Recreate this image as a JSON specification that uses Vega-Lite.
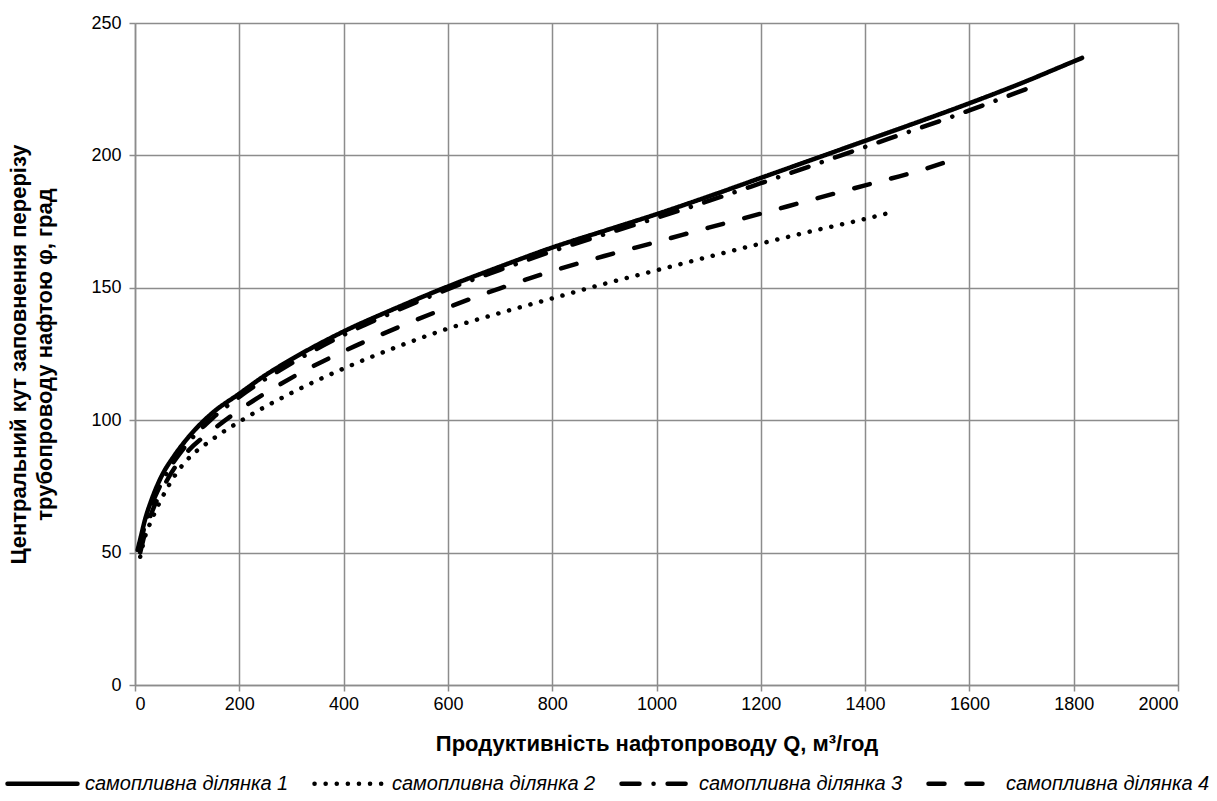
{
  "$schema": "https://vega.github.io/schema/vega-lite/v6.json",
  "width": 1043,
  "height": 662,
  "autosize": {"type": "none"},
  "padding": {"left": 135, "top": 23, "right": 39, "bottom": 116},
  "background": "white",
  "config": {
    "view": {"stroke": null},
    "font": "Liberation Sans",
    "axis": {
      "labelFont": "Liberation Sans",
      "labelFontSize": 18,
      "labelColor": "#000000",
      "titleFont": "Liberation Sans",
      "titleFontSize": 22,
      "titleFontWeight": "bold",
      "titleColor": "#000000",
      "gridColor": "#8c8c8c",
      "gridWidth": 1.5,
      "gridOpacity": 1,
      "domainColor": "#8c8c8c",
      "domainWidth": 1.5,
      "tickColor": "#8c8c8c",
      "tickWidth": 1.5,
      "tickSize": 6
    }
  },
  "data": {
    "values": [
      {"s": "самопливна ділянка 1", "Q": 5, "phi": 51},
      {"s": "самопливна ділянка 1", "Q": 10, "phi": 55},
      {"s": "самопливна ділянка 1", "Q": 20, "phi": 63},
      {"s": "самопливна ділянка 1", "Q": 30, "phi": 69},
      {"s": "самопливна ділянка 1", "Q": 50, "phi": 78.5},
      {"s": "самопливна ділянка 1", "Q": 75, "phi": 86.5},
      {"s": "самопливна ділянка 1", "Q": 100, "phi": 93},
      {"s": "самопливна ділянка 1", "Q": 133, "phi": 100},
      {"s": "самопливна ділянка 1", "Q": 150, "phi": 103},
      {"s": "самопливна ділянка 1", "Q": 200, "phi": 110},
      {"s": "самопливна ділянка 1", "Q": 250, "phi": 117},
      {"s": "самопливна ділянка 1", "Q": 300, "phi": 123},
      {"s": "самопливна ділянка 1", "Q": 400, "phi": 133.5},
      {"s": "самопливна ділянка 1", "Q": 500, "phi": 142.3},
      {"s": "самопливна ділянка 1", "Q": 600, "phi": 150.5},
      {"s": "самопливна ділянка 1", "Q": 700, "phi": 158},
      {"s": "самопливна ділянка 1", "Q": 800, "phi": 165.2},
      {"s": "самопливна ділянка 1", "Q": 900, "phi": 171.5},
      {"s": "самопливна ділянка 1", "Q": 1000, "phi": 177.8},
      {"s": "самопливна ділянка 1", "Q": 1100, "phi": 184.5},
      {"s": "самопливна ділянка 1", "Q": 1200, "phi": 191.5},
      {"s": "самопливна ділянка 1", "Q": 1300, "phi": 198.5},
      {"s": "самопливна ділянка 1", "Q": 1400, "phi": 205.5},
      {"s": "самопливна ділянка 1", "Q": 1500, "phi": 212.5},
      {"s": "самопливна ділянка 1", "Q": 1600, "phi": 219.7},
      {"s": "самопливна ділянка 1", "Q": 1700, "phi": 227.3},
      {"s": "самопливна ділянка 1", "Q": 1800, "phi": 235.5},
      {"s": "самопливна ділянка 1", "Q": 1816, "phi": 236.8},

      {"s": "самопливна ділянка 2", "Q": 10, "phi": 48.4},
      {"s": "самопливна ділянка 2", "Q": 20, "phi": 56.5},
      {"s": "самопливна ділянка 2", "Q": 30, "phi": 61.5},
      {"s": "самопливна ділянка 2", "Q": 50, "phi": 70},
      {"s": "самопливна ділянка 2", "Q": 85, "phi": 81.5},
      {"s": "самопливна ділянка 2", "Q": 100, "phi": 85},
      {"s": "самопливна ділянка 2", "Q": 150, "phi": 93},
      {"s": "самопливна ділянка 2", "Q": 200, "phi": 99.4},
      {"s": "самопливна ділянка 2", "Q": 300, "phi": 110.3},
      {"s": "самопливна ділянка 2", "Q": 400, "phi": 119.5},
      {"s": "самопливна ділянка 2", "Q": 500, "phi": 127.5},
      {"s": "самопливна ділянка 2", "Q": 600, "phi": 134.6},
      {"s": "самопливна ділянка 2", "Q": 700, "phi": 140.5},
      {"s": "самопливна ділянка 2", "Q": 800, "phi": 146},
      {"s": "самопливна ділянка 2", "Q": 900, "phi": 151.5},
      {"s": "самопливна ділянка 2", "Q": 1000, "phi": 156.6},
      {"s": "самопливна ділянка 2", "Q": 1100, "phi": 161.7},
      {"s": "самопливна ділянка 2", "Q": 1200, "phi": 166.7},
      {"s": "самопливна ділянка 2", "Q": 1300, "phi": 171.5},
      {"s": "самопливна ділянка 2", "Q": 1400, "phi": 176},
      {"s": "самопливна ділянка 2", "Q": 1440, "phi": 178},

      {"s": "самопливна ділянка 3", "Q": 8, "phi": 52},
      {"s": "самопливна ділянка 3", "Q": 10, "phi": 53.5},
      {"s": "самопливна ділянка 3", "Q": 20, "phi": 61},
      {"s": "самопливна ділянка 3", "Q": 30, "phi": 67},
      {"s": "самопливна ділянка 3", "Q": 50, "phi": 76},
      {"s": "самопливна ділянка 3", "Q": 100, "phi": 91},
      {"s": "самопливна ділянка 3", "Q": 150, "phi": 101},
      {"s": "самопливна ділянка 3", "Q": 200, "phi": 108.8},
      {"s": "самопливна ділянка 3", "Q": 300, "phi": 121.5},
      {"s": "самопливна ділянка 3", "Q": 400, "phi": 132.2},
      {"s": "самопливна ділянка 3", "Q": 500, "phi": 141.2},
      {"s": "самопливна ділянка 3", "Q": 600, "phi": 149.5},
      {"s": "самопливна ділянка 3", "Q": 700, "phi": 156.8},
      {"s": "самопливна ділянка 3", "Q": 800, "phi": 163.8},
      {"s": "самопливна ділянка 3", "Q": 900, "phi": 170.2},
      {"s": "самопливна ділянка 3", "Q": 1000, "phi": 176.4},
      {"s": "самопливна ділянка 3", "Q": 1100, "phi": 182.8},
      {"s": "самопливна ділянка 3", "Q": 1200, "phi": 189.5},
      {"s": "самопливна ділянка 3", "Q": 1300, "phi": 196.3},
      {"s": "самопливна ділянка 3", "Q": 1400, "phi": 203.2},
      {"s": "самопливна ділянка 3", "Q": 1500, "phi": 210},
      {"s": "самопливна ділянка 3", "Q": 1600, "phi": 217},
      {"s": "самопливна ділянка 3", "Q": 1715, "phi": 225.5},

      {"s": "самопливна ділянка 4", "Q": 10, "phi": 50},
      {"s": "самопливна ділянка 4", "Q": 20, "phi": 58},
      {"s": "самопливна ділянка 4", "Q": 30, "phi": 64},
      {"s": "самопливна ділянка 4", "Q": 50, "phi": 73},
      {"s": "самопливна ділянка 4", "Q": 85, "phi": 84.5},
      {"s": "самопливна ділянка 4", "Q": 100, "phi": 88},
      {"s": "самопливна ділянка 4", "Q": 150, "phi": 96.5},
      {"s": "самопливна ділянка 4", "Q": 200, "phi": 103.8},
      {"s": "самопливна ділянка 4", "Q": 300, "phi": 116},
      {"s": "самопливна ділянка 4", "Q": 400, "phi": 126},
      {"s": "самопливна ділянка 4", "Q": 500, "phi": 134.7},
      {"s": "самопливна ділянка 4", "Q": 600, "phi": 142.6},
      {"s": "самопливна ділянка 4", "Q": 700, "phi": 149.8},
      {"s": "самопливна ділянка 4", "Q": 800, "phi": 156.3},
      {"s": "самопливна ділянка 4", "Q": 900, "phi": 162},
      {"s": "самопливна ділянка 4", "Q": 1000, "phi": 167.3},
      {"s": "самопливна ділянка 4", "Q": 1100, "phi": 172.7},
      {"s": "самопливна ділянка 4", "Q": 1200, "phi": 178},
      {"s": "самопливна ділянка 4", "Q": 1300, "phi": 183.4},
      {"s": "самопливна ділянка 4", "Q": 1400, "phi": 188.7},
      {"s": "самопливна ділянка 4", "Q": 1500, "phi": 194},
      {"s": "самопливна ділянка 4", "Q": 1560, "phi": 197.8}
    ]
  },
  "mark": {
    "type": "line",
    "interpolate": "monotone",
    "color": "#000000",
    "strokeWidth": 4.5,
    "strokeCap": "round",
    "strokeJoin": "round"
  },
  "encoding": {
    "x": {
      "field": "Q",
      "type": "quantitative",
      "scale": {"domain": [0, 2000], "nice": false, "zero": true},
      "axis": {
        "values": [0, 200, 400, 600, 800, 1000, 1200, 1400, 1600, 1800, 2000],
        "format": "d",
        "title": "Продуктивність нафтопроводу Q, м³/год",
        "labelPadding": 4,
        "titlePadding": 20
      }
    },
    "y": {
      "field": "phi",
      "type": "quantitative",
      "scale": {"domain": [0, 250], "nice": false},
      "axis": {
        "values": [0, 50, 100, 150, 200, 250],
        "format": "d",
        "title": ["Центральний кут заповнення перерізу", "трубопроводу нафтою φ, град"],
        "titleLineHeight": 26,
        "labelPadding": 8,
        "titlePadding": 34
      }
    },
    "strokeDash": {
      "field": "s",
      "type": "nominal",
      "scale": {
        "domain": ["самопливна ділянка 1", "самопливна ділянка 2", "самопливна ділянка 3", "самопливна ділянка 4"],
        "range": [[1, 0], [0.1, 11], [18, 14, 0.1, 14], [16, 22]]
      },
      "legend": {
        "title": null,
        "orient": "none",
        "legendX": -130,
        "legendY": 723,
        "direction": "horizontal",
        "columns": 4,
        "columnPadding": 16,
        "symbolType": "stroke",
        "symbolSize": 4900,
        "symbolStrokeWidth": 4.5,
        "symbolStrokeColor": "#000000",
        "labelFont": "Liberation Sans",
        "labelFontSize": 20,
        "labelFontStyle": "italic",
        "labelColor": "#000000",
        "labelOffset": 5,
        "labelLimit": 400,
        "padding": 0,
        "encode": {"symbols": {"update": {"strokeCap": {"value": "round"}}}}
      }
    }
  }
}
